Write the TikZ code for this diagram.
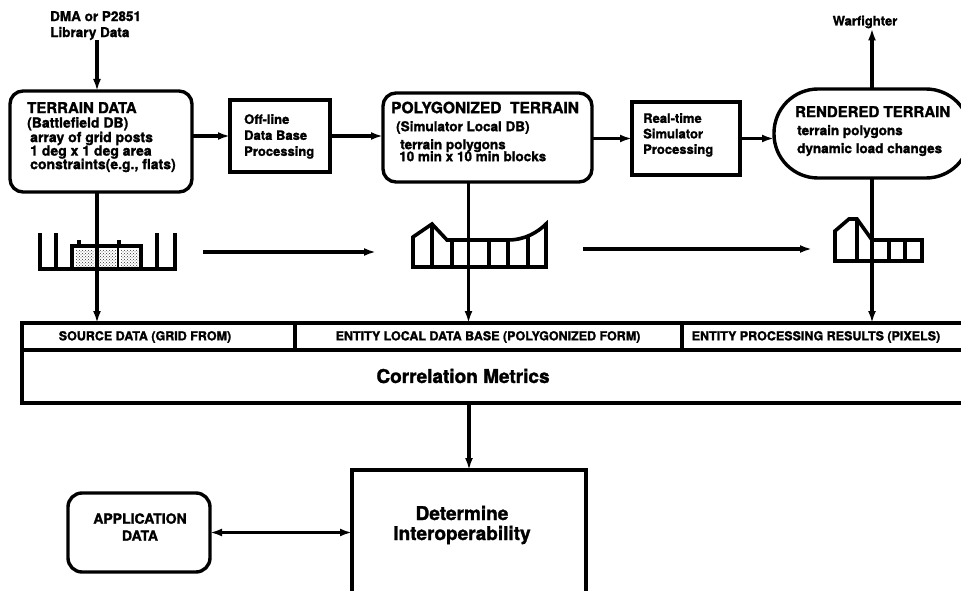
\documentclass[tikz,border=0pt]{standalone}
\usepackage{fontspec}
\setmainfont{TeX Gyre Heros}[BoldFeatures={FakeBold=1.5}]
\usetikzlibrary{arrows.meta,patterns}
\begin{document}
\begin{tikzpicture}[x=1pt,y=-1pt,
  box/.style={draw, line width=3.4pt, inner sep=0pt, outer sep=0pt},
  rbox/.style={box, rounded corners=13pt},
  arr/.style={line width=3.2pt, -{Latex[length=12pt,width=8pt]}},
  arrboth/.style={line width=3.2pt, {Latex[length=12pt,width=8pt]}-{Latex[length=12pt,width=8pt]}},
  glyph/.style={line width=3.6pt, line join=miter},
  txt/.style={inner sep=0pt, align=left, anchor=north west},
  ftA/.style={font=\fontsize{13}{13}\selectfont\bfseries},
  ftS/.style={font=\fontsize{12.5}{13}\selectfont\bfseries},
  ftL/.style={font=\fontsize{19}{20}\selectfont\bfseries}]
\useasboundingbox (0,0) rectangle (961,591);
\clip (0,0) rectangle (961,591);

% ---- top row boxes
\node[rbox, minimum width=182pt, minimum height=101pt] (terrain) at (101,141.5) {};
\node[box, minimum width=100pt, minimum height=72pt] (offline) at (280,136) {};
\node[rbox, minimum width=209pt, minimum height=89pt] (poly) at (487.5,137.5) {};
\node[box, minimum width=108pt, minimum height=73pt] (real) at (686,138.5) {};
\node[box, rounded corners=44pt, minimum width=196pt, minimum height=89pt] (rend) at (872,133.5) {};

% ---- texts
\node[txt, font=\fontsize{13.5}{16}\selectfont\bfseries] (dma) at (50,11) {DMA or P2851\\Library Data};
\node[txt, font=\fontsize{14}{13.5}\selectfont\bfseries] (terraintxt) at (27,102) {{\fontsize{15}{13.5}\selectfont TERRAIN DATA}\\[1pt](Battlefield DB)\\[1pt]\hspace{3pt}array of grid posts\\\hspace{3pt}1 deg x 1 deg area\\\hspace{3pt}constraints(e.g., flats)};
\node[txt, font=\fontsize{13}{16}\selectfont\bfseries] (offtxt) at (244,114) {Off-line\\Data Base\\Processing};
\node[txt, font=\fontsize{13.5}{14}\selectfont\bfseries] (polytxt) at (391,101.5) {{\fontsize{15.5}{14}\selectfont POLYGONIZED\ \ TERRAIN}\\[4pt]\hspace{5pt}(Simulator Local DB)\\[4pt]\hspace{9pt}terrain polygons\\[-2pt]\hspace{8pt}10 min x 10 min blocks};
\node[txt, font=\fontsize{13}{15.5}\selectfont\bfseries] (realtxt) at (643,113) {Real-time\\Simulator\\Processing};
\node[txt, font=\fontsize{13.5}{18}\selectfont\bfseries] (rendtxt) at (795,106) {{\fontsize{15}{18}\selectfont RENDERED TERRAIN}\\\hspace{2pt}terrain polygons\\\hspace{2pt}dynamic load changes};
\node[ftA, inner sep=0pt] (warf) at (865,22) {Warfighter};

% ---- strip and correlation box
\node[box, minimum width=273pt, minimum height=27pt] (cell1) at (158.5,336.5) {};
\node[box, minimum width=387pt, minimum height=27pt] (cell2) at (488.5,336.5) {};
\node[box, minimum width=288pt, minimum height=27pt] (cell3) at (826,336.5) {};
\node[box, minimum width=948pt, minimum height=53pt] (corr) at (496,376.5) {};
\node[ftS, inner sep=0pt] (c1txt) at (145,337) {SOURCE DATA (GRID FROM)};
\node[ftS, inner sep=0pt] (c2txt) at (488,337) {ENTITY LOCAL DATA BASE (POLYGONIZED FORM)};
\node[ftS, inner sep=0pt] (c3txt) at (816,337) {ENTITY PROCESSING RESULTS (PIXELS)};
\node[ftL, inner sep=0pt] (corrtxt) at (463,376) {Correlation Metrics};

% ---- bottom
\node[rbox, rounded corners=14pt, minimum width=142pt, minimum height=79pt] (app) at (139,532.5) {};
\node[box, minimum width=234pt, minimum height=140pt] (det) at (469,540) {};
\node[inner sep=0pt, align=center, font=\fontsize{14}{17}\selectfont\bfseries] (apptxt) at (140,527) {APPLICATION\\DATA};
\node[inner sep=0pt, align=center, ftL] (dettxt) at (462,525) {Determine\\Interoperability};

% ---- glyphs
% grid posts
\draw[glyph] (40,233) -- (40,269) -- (175,269) -- (175,233);
\draw[glyph] (56,233) -- (56,269);
\draw[glyph] (157,233) -- (157,269);
\draw[glyph] (72,269) -- (72,246) -- (141,246) -- (141,269);
\draw[glyph] (79,240) -- (79,246);
\draw[glyph] (119,240) -- (119,246);
\fill[pattern=crosshatch dots, pattern color=black!80] (76,250) rectangle (94,266);
\fill[pattern=crosshatch dots, pattern color=black!80] (99,250) rectangle (116,266);
\fill[pattern=crosshatch dots, pattern color=black!80] (121,250) rectangle (138,266);
\draw[line width=2.6pt] (118,246) -- (118,269);
% polygonized
\draw[glyph] (413,267) -- (413,237) -- (432,224) -- (447,240) -- (508,240) .. controls (525,240) and (538,232) .. (546,224) -- (546,267) -- cycle;
\draw[glyph] (432,224) -- (432,267);
\draw[glyph] (452,240) -- (452,267);
\draw[glyph] (489,240) -- (489,267);
\draw[glyph] (508,240) -- (508,267);
\draw[glyph] (528,236) -- (528,267);
% rendered
\draw[glyph] (835,261) -- (835,231) -- (849,219) -- (857,219) -- (872,240) -- (922,240) -- (922,261) -- cycle;
\draw[glyph] (857,219) -- (857,261);
\draw[glyph] (889,240) -- (889,261);
\draw[glyph] (905,240) -- (905,261);

\coordinate (ga1) at (203,252);
\coordinate (gb1) at (376,252);
\coordinate (ga2) at (583,249);
\coordinate (gb2) at (812,249);

% ---- connectors
\draw[arr] ([xshift=-4pt]terrain.north |- dma.south) -- ([xshift=-4pt]terrain.north);
\draw[arr] (terrain.east |- offline.west) -- (offline.west);
\draw[arr] (offline.east) -- (offline.east -| poly.west);
\draw[arr] (poly.east |- real.west) -- (real.west);
\draw[arr] (real.east) -- (real.east -| rend.west);
\draw[arr] (rend.north) -- (rend.north |- warf.south);
\draw[arr] ([xshift=-4pt]terrain.south) -- ([xshift=-4pt]terrain.south |- cell1.north);
\draw[arr] ([xshift=-19pt]poly.south) -- ([xshift=-19pt]poly.south |- cell2.north);
\draw[arr] (rend.south) -- (rend.south |- cell3.north);
\draw[arr] (ga1) -- (gb1);
\draw[arr] (ga2) -- (gb2);
\draw[arr] (corr.south -| det.north) -- (det.north);
\draw[arrboth] (app.east) -- (app.east -| det.west);
\end{tikzpicture}
\end{document}
